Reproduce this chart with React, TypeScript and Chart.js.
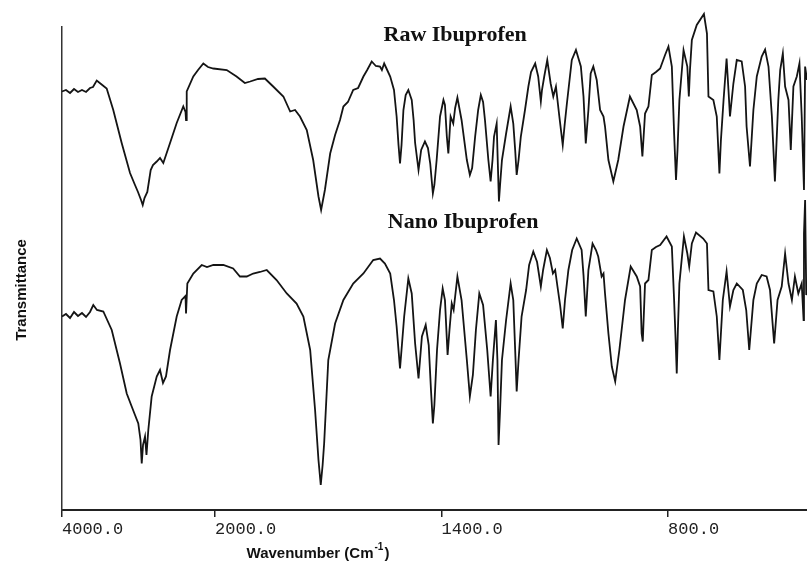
import React, { useEffect, useRef } from 'react';
import { Chart, registerables } from 'chart.js';

Chart.register(...registerables);

// ---- data (wavenumber in cm-1, transmittance in arbitrary %-like units) ----
const RAW_WN = [4000, 3948, 3895, 3843, 3791, 3739, 3686, 3634, 3595, 3546, 3490, 3416, 3330, 3220, 3111, 3046, 3007, 2967, 2945, 2922, 2885, 2841, 2811, 2762, 2719, 2676, 2588, 2501, 2415, 2386, 2379, 2370, 2284, 2222, 2153, 2092, 2022, 1969, 1943, 1921, 1907, 1886, 1868, 1846, 1819, 1801, 1788, 1775, 1757, 1740, 1726, 1719, 1709, 1695, 1682, 1669, 1660, 1648, 1634, 1621, 1607, 1597, 1585, 1574, 1563, 1558, 1552, 1544, 1536, 1526, 1519, 1514, 1510, 1506, 1501, 1495, 1488, 1479, 1474, 1470, 1461, 1454, 1444, 1436, 1430, 1423, 1419, 1413, 1404, 1395, 1391, 1386, 1382, 1376, 1369, 1364, 1358, 1347, 1333, 1325, 1319, 1311, 1303, 1296, 1290, 1285, 1276, 1270, 1265, 1261, 1254, 1252, 1248, 1245, 1240, 1229, 1217, 1210, 1205, 1201, 1196, 1190, 1179, 1170, 1163, 1152, 1144, 1137, 1134, 1128, 1120, 1111, 1104, 1097, 1088, 1079, 1074, 1068, 1055, 1044, 1031, 1024, 1018, 1011, 1005, 998, 989, 980, 971, 967, 958, 945, 932, 918, 901, 883, 874, 868, 861, 852, 843, 832, 821, 808, 799, 790, 784, 779, 775, 770, 759, 749, 745, 742, 737, 724, 705, 697, 693, 680, 671, 664, 660, 653, 645, 640, 636, 627, 618, 605, 596, 592, 583, 574, 565, 552, 543, 534, 525, 517, 508, 503, 496, 490, 481, 475, 468, 459, 452, 446, 440, 437, 432];
const RAW_T = [83.7, 84.0, 83.4, 84.2, 83.6, 84.0, 83.6, 84.4, 84.6, 85.9, 85.2, 84.3, 80.0, 73.4, 67.4, 65.0, 63.6, 62.0, 61.0, 62.4, 63.6, 68.0, 69.0, 69.7, 70.4, 69.4, 73.4, 77.4, 80.7, 79.6, 78.0, 83.7, 86.7, 88.0, 89.3, 88.6, 88.3, 88.0, 86.7, 85.4, 85.7, 86.2, 86.3, 84.7, 82.7, 79.7, 80.0, 78.7, 76.0, 70.0, 62.7, 60.0, 64.0, 71.3, 75.0, 78.0, 80.7, 81.6, 84.0, 84.4, 86.7, 88.0, 89.7, 88.8, 88.7, 88.0, 89.3, 88.0, 86.7, 84.0, 78.7, 73.0, 69.3, 73.0, 80.0, 83.0, 84.0, 82.0, 78.0, 73.4, 68.0, 72.0, 73.7, 72.4, 69.3, 63.3, 65.0, 70.0, 78.7, 82.0, 81.0, 74.7, 71.3, 78.7, 77.3, 80.4, 82.5, 78.0, 70.0, 67.0, 68.4, 74.7, 80.0, 83.0, 81.6, 78.0, 70.0, 65.7, 70.0, 74.7, 77.3, 72.0, 61.7, 65.0, 70.0, 75.3, 80.7, 77.3, 72.0, 67.0, 70.0, 74.7, 80.0, 84.7, 87.6, 89.3, 86.7, 81.7, 84.0, 86.7, 90.0, 85.3, 82.7, 84.7, 78.7, 73.0, 77.0, 81.3, 90.0, 92.0, 88.7, 82.7, 73.3, 80.0, 87.3, 88.7, 86.0, 80.0, 78.7, 76.7, 70.0, 65.7, 70.0, 76.7, 82.7, 80.0, 76.7, 70.7, 79.3, 80.7, 87.0, 87.6, 88.3, 91.0, 92.7, 88.7, 75.3, 66.0, 72.0, 82.0, 92.0, 88.7, 82.7, 88.0, 94.0, 97.0, 99.2, 95.3, 82.7, 82.0, 78.7, 67.3, 74.0, 82.0, 90.3, 84.0, 78.7, 85.3, 90.0, 89.7, 84.7, 76.7, 68.7, 80.0, 86.7, 90.7, 92.1, 88.7, 78.7, 65.7, 82.0, 88.0, 91.3, 84.7, 82.0, 72.0, 84.7, 86.7, 89.3, 78.7, 64.0, 88.7, 86.0];

const NANO_WN = [4000, 3948, 3895, 3843, 3791, 3739, 3686, 3634, 3591, 3543, 3460, 3350, 3242, 3154, 3089, 3046, 3003, 2974, 2958, 2941, 2915, 2896, 2872, 2828, 2762, 2719, 2680, 2641, 2588, 2501, 2436, 2386, 2379, 2362, 2284, 2174, 2105, 2022, 1978, 1952, 1934, 1916, 1899, 1881, 1863, 1837, 1810, 1784, 1766, 1748, 1735, 1726, 1720, 1715, 1711, 1700, 1682, 1660, 1634, 1607, 1581, 1563, 1550, 1536, 1526, 1519, 1514, 1510, 1505, 1499, 1488, 1479, 1470, 1461, 1452, 1442, 1434, 1428, 1423, 1419, 1412, 1404, 1397, 1391, 1384, 1379, 1373, 1368, 1358, 1347, 1333, 1325, 1317, 1309, 1300, 1290, 1279, 1270, 1264, 1256, 1252, 1249, 1245, 1240, 1229, 1217, 1210, 1204, 1201, 1196, 1188, 1176, 1168, 1157, 1147, 1137, 1131, 1121, 1113, 1105, 1099, 1093, 1086, 1079, 1073, 1064, 1054, 1042, 1029, 1024, 1018, 1011, 1000, 991, 985, 976, 971, 967, 958, 949, 940, 929, 914, 899, 883, 874, 870, 867, 861, 852, 843, 832, 821, 804, 790, 784, 780, 777, 774, 770, 758, 749, 744, 737, 726, 707, 697, 693, 680, 671, 664, 655, 645, 636, 627, 618, 602, 593, 585, 574, 565, 552, 539, 530, 519, 510, 499, 490, 481, 472, 464, 455, 446, 441, 440, 437, 434, 432];
const NANO_T = [38.7, 39.2, 38.4, 39.6, 38.8, 39.4, 38.6, 39.6, 41.0, 40.0, 39.7, 36.0, 29.3, 23.3, 20.7, 19.0, 17.3, 14.0, 9.3, 13.0, 14.7, 11.0, 16.0, 22.7, 26.7, 28.0, 25.4, 26.7, 32.0, 38.7, 42.0, 42.8, 39.3, 45.3, 47.3, 49.0, 48.6, 49.0, 49.0, 48.3, 46.7, 46.7, 47.3, 47.6, 48.0, 46.0, 43.3, 41.3, 38.7, 32.0, 20.0, 10.0, 5.0, 9.0, 13.3, 30.0, 37.3, 42.0, 45.3, 47.3, 50.0, 50.3, 49.3, 47.3, 42.0, 36.7, 32.0, 28.3, 33.0, 38.7, 46.3, 43.3, 33.3, 26.3, 34.7, 37.0, 33.0, 24.0, 17.3, 21.0, 32.0, 40.0, 44.3, 42.0, 31.0, 36.0, 41.3, 40.0, 46.7, 42.0, 30.0, 22.7, 27.0, 36.0, 43.3, 41.0, 32.0, 22.7, 30.0, 38.0, 30.0, 13.0, 20.0, 30.0, 38.0, 45.3, 42.0, 30.0, 23.7, 30.0, 38.7, 44.0, 49.0, 51.7, 49.6, 44.7, 48.0, 52.0, 50.4, 47.3, 48.0, 44.7, 41.0, 36.3, 42.0, 48.0, 52.0, 54.3, 52.0, 47.0, 38.7, 48.0, 53.3, 52.0, 50.7, 46.7, 47.3, 43.3, 35.3, 28.7, 25.7, 32.0, 42.0, 48.7, 46.7, 44.7, 35.3, 33.7, 45.3, 46.0, 52.0, 52.6, 53.0, 54.7, 52.7, 42.0, 34.0, 27.3, 36.0, 45.3, 54.7, 51.3, 48.7, 53.3, 55.5, 54.3, 53.3, 44.0, 43.7, 38.7, 30.0, 42.0, 47.7, 40.7, 44.0, 45.3, 44.0, 40.0, 32.0, 42.0, 45.3, 47.0, 46.7, 44.0, 33.3, 42.0, 44.7, 51.3, 45.3, 42.0, 46.7, 43.3, 45.3, 38.0, 55.3, 62.0, 43.0, 44.0];

const SERIES_LABELS = ['Raw Ibuprofen', 'Nano Ibuprofen'];
const LABEL_WN = [1364, 1343];
const LABEL_T = [93.8, 56.4];

const TICK_WN = [4000, 2000, 1400, 800];
const TICK_LABELS = ['4000.0', '2000.0', '1400.0', '800.0'];

const X_TITLE = 'Wavenumber (Cm';
const X_TITLE_SUP = '-1';
const X_TITLE_END = ')';
const Y_TITLE = 'Transmittance';

const WN_START = 4000;
const WN_BREAK = 2000;
const WN_END = 432;
const T_MIN = 0;
const T_MAX = 96.6;

// The spectrometer chart changes its horizontal scale at 2000 cm-1.
const HIGH_PER_CM = 1 / 13.07;
const LOW_PER_CM = 1 / 2.649;
const toPos = (w: number) =>
  w >= WN_BREAK
    ? (WN_START - w) * HIGH_PER_CM
    : (WN_START - WN_BREAK) * HIGH_PER_CM + (WN_BREAK - w) * LOW_PER_CM;

const textPlugin = {
  id: 'irText',
  afterDatasetsDraw(chart: any) {
    const { ctx, scales } = chart;
    const x = scales.x;
    const y = scales.y;
    ctx.save();
    ctx.fillStyle = '#111';
    // series annotations
    ctx.font = 'bold 22px "Liberation Serif", "Times New Roman", serif';
    ctx.textAlign = 'center';
    ctx.textBaseline = 'alphabetic';
    SERIES_LABELS.forEach((s, i) => {
      ctx.fillText(s, x.getPixelForValue(toPos(LABEL_WN[i])), y.getPixelForValue(LABEL_T[i]));
    });
    // x axis title with superscript
    const mainFont = 'bold 15px "Liberation Sans", Arial, sans-serif';
    const supFont = 'bold 10px "Liberation Sans", Arial, sans-serif';
    ctx.textAlign = 'left';
    ctx.font = mainFont;
    const w1 = ctx.measureText(X_TITLE).width;
    const w3 = ctx.measureText(X_TITLE_END).width;
    ctx.font = supFont;
    const w2 = ctx.measureText(X_TITLE_SUP).width + 2;
    const total = w1 + w2 + w3;
    const cx = 318;
    const base = 558;
    let sx = cx - total / 2;
    ctx.font = mainFont;
    ctx.fillText(X_TITLE, sx, base);
    sx += w1 + 1;
    ctx.font = supFont;
    ctx.fillText(X_TITLE_SUP, sx, base - 8);
    sx += w2 - 1;
    ctx.font = mainFont;
    ctx.fillText(X_TITLE_END, sx, base);
    // y axis title
    ctx.translate(26, 290);
    ctx.rotate(-Math.PI / 2);
    ctx.textAlign = 'center';
    ctx.font = mainFont;
    ctx.fillText(Y_TITLE, 0, 0);
    ctx.restore();
  },
};

export default function App() {
  const ref = useRef<HTMLCanvasElement | null>(null);
  useEffect(() => {
    if (!ref.current) return;
    const mk = (wn: number[], t: number[]) => wn.map((w, i) => ({ x: toPos(w), y: t[i] }));
    const lineStyle = {
      borderColor: '#141414',
      borderWidth: 1.8,
      pointRadius: 0,
      tension: 0,
      clip: false as any,
      fill: false,
    };
    const chart = new Chart(ref.current, {
      type: 'line',
      data: {
        datasets: [
          { label: SERIES_LABELS[0], data: mk(RAW_WN, RAW_T), ...lineStyle },
          { label: SERIES_LABELS[1], data: mk(NANO_WN, NANO_T), ...lineStyle },
        ],
      },
      options: {
        responsive: false,
        animation: false,
        layout: { padding: { top: 27, left: 0, right: 0, bottom: 0 } },
        plugins: {
          legend: { display: false },
          tooltip: { enabled: false },
          title: { display: false },
        },
        scales: {
          x: {
            type: 'linear',
            min: toPos(WN_START),
            max: toPos(WN_END),
            afterBuildTicks: (s: any) => {
              s.ticks = TICK_WN.map((w) => ({ value: toPos(w) }));
            },
            afterFit: (s: any) => {
              s.height = 57;
            },
            ticks: {
              autoSkip: false,
              maxRotation: 0,
              minRotation: 0,
              align: 'start',
              padding: 2,
              color: '#222',
              font: { family: '"Liberation Mono", "DejaVu Sans Mono", monospace', size: 17 },
              callback: (_v: any, i: number) => TICK_LABELS[i],
            },
            grid: {
              display: true,
              drawOnChartArea: false,
              drawTicks: true,
              tickLength: 7,
              color: '#222',
              lineWidth: 1.5,
            },
            border: { display: true, color: '#222', width: 2 },
          },
          y: {
            type: 'linear',
            min: T_MIN,
            max: T_MAX,
            afterFit: (s: any) => {
              s.width = 62;
            },
            ticks: { display: false },
            grid: { display: false },
            border: { display: true, color: '#333', width: 1.5 },
          },
        },
      } as any,
      plugins: [textPlugin],
    });
    return () => chart.destroy();
  }, []);
  return (
    <div style={{ position: 'absolute', left: 0, top: 0, width: 807, height: 567, background: '#fff' }}>
      <canvas ref={ref} width={807} height={567} style={{ display: 'block' }} />
    </div>
  );
}
